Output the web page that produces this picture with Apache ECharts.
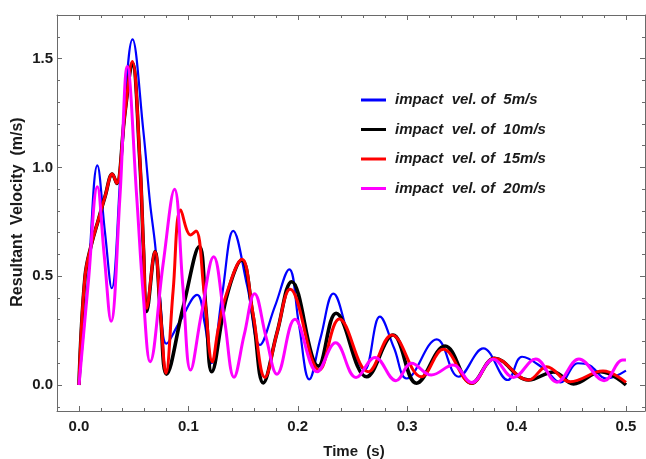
<!DOCTYPE html>
<html>
<head>
<meta charset="utf-8">
<script src="https://cdn.jsdelivr.net/npm/echarts@6/dist/echarts.min.js"></script>
<style>
  html, body { margin: 0; padding: 0; background: #fff; }
  #chart { width: 646px; height: 459px; }
</style>
</head>
<body>
<div id="chart"></div>
<script>
// Resultant velocity vs time for four impact velocities: [time (s), velocity (m/s)]
const vel5 = [
  [0, 0], [0.0085, 0.5], [0.0168, 1.01], [0.0238, 0.70], [0.0299, 0.445], [0.039, 1.05],
  [0.049, 1.589], [0.0588, 1.17], [0.065, 0.835], [0.0695, 0.65], [0.074, 0.406], [0.080, 0.19],
  [0.092, 0.29], [0.108, 0.414], [0.115, 0.28], [0.121, 0.10], [0.131, 0.42], [0.141, 0.709],
  [0.154, 0.45], [0.1654, 0.184], [0.179, 0.36], [0.1922, 0.532], [0.201, 0.28], [0.2105, 0.026],
  [0.221, 0.22], [0.2325, 0.42], [0.2477, 0.207], [0.261, 0.07], [0.275, 0.314], [0.288, 0.17],
  [0.2995, 0.03], [0.327, 0.21], [0.347, 0.038], [0.3696, 0.168], [0.392, 0.023], [0.405, 0.13],
  [0.425, 0.075], [0.440, 0.012], [0.456, 0.10], [0.467, 0.09], [0.482, 0.03], [0.5, 0.066]
];
const vel10 = [
  [0, 0], [0.0055, 0.498], [0.0116, 0.651], [0.0177, 0.759], [0.0238, 0.866], [0.0305, 0.97],
  [0.0344, 0.927], [0.042, 1.25], [0.0487, 1.48], [0.0555, 1.04], [0.059, 0.62], [0.0619, 0.338],
  [0.0695, 0.613], [0.0745, 0.33], [0.080, 0.05], [0.0953, 0.36], [0.110, 0.636], [0.116, 0.35],
  [0.1213, 0.061], [0.135, 0.406], [0.1487, 0.575], [0.159, 0.32], [0.1685, 0.01], [0.181, 0.24],
  [0.1944, 0.475], [0.2188, 0.087], [0.235, 0.33], [0.263, 0.038], [0.287, 0.23], [0.3086, 0.008],
  [0.3346, 0.179], [0.359, 0.008], [0.380, 0.123], [0.411, 0.023], [0.434, 0.06], [0.452, 0.005],
  [0.477, 0.061], [0.5, 0.0]
];
const vel15 = [
  [0, 0], [0.0055, 0.498], [0.0116, 0.651], [0.0177, 0.759], [0.0238, 0.866], [0.0305, 0.97],
  [0.0344, 0.927], [0.042, 1.25], [0.0487, 1.487], [0.0555, 1.05], [0.059, 0.63], [0.0619, 0.353],
  [0.0695, 0.613], [0.0745, 0.33], [0.0795, 0.054], [0.086, 0.43], [0.093, 0.805], [0.102, 0.69],
  [0.107, 0.708], [0.1145, 0.42], [0.122, 0.107], [0.127, 0.25], [0.1335, 0.398], [0.149, 0.578],
  [0.159, 0.33], [0.170, 0.035], [0.181, 0.24], [0.193, 0.44], [0.2197, 0.069], [0.238, 0.303],
  [0.2645, 0.061], [0.286, 0.23], [0.313, 0.038], [0.333, 0.164], [0.359, 0.008], [0.380, 0.123],
  [0.411, 0.023], [0.4275, 0.084], [0.449, 0.015], [0.479, 0.064], [0.5, 0.012]
];
const vel20 = [
  [0, 0], [0.0085, 0.47], [0.0168, 0.912], [0.023, 0.6], [0.0293, 0.293], [0.0375, 0.87],
  [0.0442, 1.464], [0.0527, 0.87], [0.0588, 0.41], [0.065, 0.107], [0.077, 0.56], [0.0873, 0.90],
  [0.095, 0.45], [0.102, 0.069], [0.112, 0.33], [0.1231, 0.59], [0.133, 0.3], [0.1417, 0.036],
  [0.151, 0.23], [0.1605, 0.42], [0.171, 0.22], [0.181, 0.05], [0.1974, 0.302], [0.2178, 0.061],
  [0.2345, 0.194], [0.2533, 0.035], [0.2706, 0.127], [0.2897, 0.02], [0.304, 0.10], [0.322, 0.046],
  [0.342, 0.092], [0.359, 0.011], [0.3787, 0.118], [0.397, 0.035], [0.4175, 0.12], [0.437, 0.013],
  [0.457, 0.12], [0.480, 0.02], [0.497, 0.115], [0.5, 0.115]
];

const seriesNames = [
  'impact  vel. of  5m/s',
  'impact  vel. of  10m/s',
  'impact  vel. of  15m/s',
  'impact  vel. of  20m/s'
];
const seriesColors = ['#0000ff', '#000000', '#ff0000', '#ff00ff'];
const seriesWidths = [2.2, 3.6, 3, 3];
const seriesData = [vel5, vel10, vel15, vel20];

// Axis ranges and tick values
const xRange = [-0.0201, 0.5174];
const yRange = [-0.1195, 1.701];
const xMajor = [0, 0.1, 0.2, 0.3, 0.4, 0.5];
const xMinor = [0.02, 0.04, 0.06, 0.08, 0.12, 0.14, 0.16, 0.18, 0.22, 0.24, 0.26, 0.28,
                0.32, 0.34, 0.36, 0.38, 0.42, 0.44, 0.46, 0.48];
const yMajor = [0, 0.5, 1.0, 1.5];
const yMinor = [-0.1, 0.1, 0.2, 0.3, 0.4, 0.6, 0.7, 0.8, 0.9, 1.1, 1.2, 1.3, 1.4, 1.6];

const frameColor = '#6a6a6a';
const labelFont = {
  fontFamily: 'Liberation Sans, Arial, sans-serif',
  fontWeight: 'bold',
  fontSize: 15,
  color: '#1a1a1a'
};

function frameAxis(position, range, ticks, len, showLine, labels, labelMargin) {
  return {
    type: 'value',
    position: position,
    min: range[0],
    max: range[1],
    splitLine: { show: false },
    axisLine: { show: showLine, onZero: false, lineStyle: { color: frameColor, width: 1 } },
    axisTick: {
      show: true, inside: true, length: len, customValues: ticks,
      lineStyle: { color: frameColor, width: 1 }
    },
    axisLabel: labels ? Object.assign({
      show: true, customValues: ticks, margin: labelMargin,
      formatter: v => Number(v).toFixed(1)
    }, labelFont) : { show: false },
    minorTick: { show: false }
  };
}

const chart = echarts.init(document.getElementById('chart'), null, { renderer: 'canvas' });

chart.setOption({
  animation: false,
  backgroundColor: '#ffffff',
  grid: { left: 57, top: 15, right: 1, bottom: 48, containLabel: false },
  xAxis: [
    frameAxis('bottom', xRange, xMajor, 5, true, true, 8),
    frameAxis('bottom', xRange, xMinor, 3, false, false),
    frameAxis('top', xRange, xMajor, 5, true, false),
    frameAxis('top', xRange, xMinor, 3, false, false)
  ],
  yAxis: [
    frameAxis('left', yRange, yMajor, 5, true, true, 4),
    frameAxis('left', yRange, yMinor, 3, false, false),
    frameAxis('right', yRange, yMajor, 5, true, false),
    frameAxis('right', yRange, yMinor, 3, false, false)
  ],
  legend: {
    orient: 'vertical',
    left: 356,
    top: 87,
    itemWidth: 25,
    itemHeight: 3,
    itemGap: 13.5,
    icon: 'rect',
    data: seriesNames,
    textStyle: {
      fontFamily: 'Liberation Sans, Arial, sans-serif',
      fontWeight: 'bold',
      fontStyle: 'italic',
      fontSize: 15,
      lineHeight: 16,
      color: '#1a1a1a',
      padding: [0, 0, 0, 4]
    }
  },
  graphic: [
    {
      type: 'text',
      x: 354, y: 452,
      style: {
        text: 'Time  (s)', align: 'center', verticalAlign: 'middle',
        fill: '#1a1a1a', font: 'bold 15px "Liberation Sans", Arial, sans-serif'
      }
    },
    {
      type: 'text',
      x: 18, y: 212,
      rotation: Math.PI / 2,
      style: {
        text: 'Resultant  Velocity  (m/s)', align: 'center', verticalAlign: 'middle',
        fill: '#1a1a1a', font: 'bold 16px "Liberation Sans", Arial, sans-serif'
      }
    }
  ],
  series: seriesData.map((d, i) => ({
    name: seriesNames[i],
    type: 'line',
    xAxisIndex: 0,
    yAxisIndex: 0,
    data: d,
    smooth: 0.4,
    showSymbol: false,
    symbol: 'none',
    color: seriesColors[i],
    lineStyle: { color: seriesColors[i], width: seriesWidths[i] },
    clip: true
  }))
});
</script>
</body>
</html>
